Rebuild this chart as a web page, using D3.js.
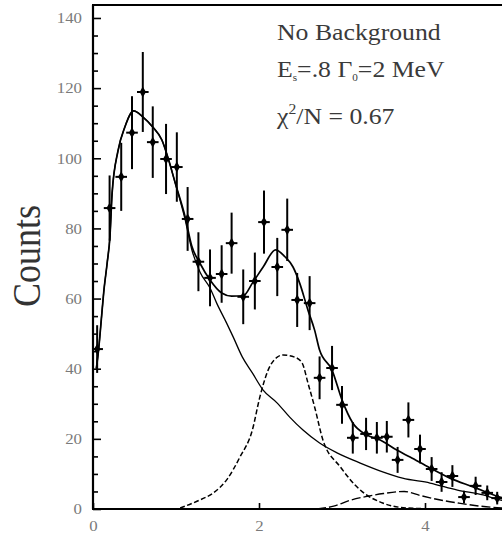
<!DOCTYPE html>
<html>
<head>
<meta charset="utf-8">
<script src="https://cdn.jsdelivr.net/npm/d3@7"></script>
<style>
  body { margin: 0; background: #fff; }
  svg { display: block; }
</style>
</head>
<body>
<div id="chart"></div>
<script>
// data
var binX = [0.05, 0.20, 0.34, 0.47, 0.60, 0.72, 0.88, 1.01, 1.14, 1.27, 1.41, 1.55, 1.67,
  1.81, 1.95, 2.06, 2.22, 2.34, 2.46, 2.61, 2.73, 2.88, 3.00, 3.13, 3.29, 3.42, 3.54,
  3.67, 3.80, 3.94, 4.08, 4.20, 4.33, 4.47, 4.61, 4.75, 4.87];
var counts = [45.6, 85.8, 94.7, 107.3, 118.9, 104.6, 99.8, 97.5, 82.7, 70.5, 65.9, 67.0, 75.8,
  60.5, 65.0, 81.8, 69.0, 79.6, 59.6, 58.7, 37.4, 40.2, 29.7, 20.3, 21.4, 20.3, 20.6,
  14.0, 25.4, 17.1, 11.4, 7.7, 9.4, 3.4, 6.6, 4.6, 3.1];
var errs = [6.8, 9.3, 9.7, 10.4, 11.4, 10.2, 10.0, 9.9, 9.1, 8.4, 8.1, 8.2, 8.7,
  7.8, 8.1, 9.0, 8.3, 8.9, 7.7, 7.7, 6.1, 6.3, 5.4, 4.5, 4.6, 4.5, 4.5,
  3.7, 5.0, 4.1, 3.4, 2.8, 3.1, 1.8, 2.6, 2.1, 1.8];
var binHalf = 0.07;

var totalFit = [[0.04, 40], [0.07, 46], [0.10, 54], [0.13, 62], [0.17, 70], [0.205, 78], [0.23, 90],
  [0.30, 102], [0.385, 109], [0.49, 113.5], [0.60, 111.8], [0.72, 108.9], [0.83, 105.2],
  [0.90, 100.4], [0.99, 93], [1.11, 83.3], [1.19, 75], [1.29, 70], [1.41, 65.3], [1.55, 61.6],
  [1.67, 60.7], [1.81, 60.8], [1.92, 64.4], [2.05, 69.0], [2.20, 73.9], [2.31, 72], [2.41, 69],
  [2.49, 64.4], [2.59, 56.7], [2.67, 51], [2.73, 45.3], [2.88, 39.6], [3.00, 31.1], [3.13, 24.5],
  [3.30, 21.1], [3.46, 19.7], [3.66, 16.8], [3.82, 14.8], [4.06, 11.7], [4.30, 8.8], [4.58, 6.3],
  [4.90, 3.4], [5.0, 2.8]];
var broadPart = [[0.04, 40], [0.07, 46], [0.10, 54], [0.13, 62], [0.17, 70], [0.205, 78], [0.23, 90],
  [0.30, 102], [0.385, 109], [0.49, 113.5], [0.60, 111.8], [0.72, 108.9], [0.83, 105.2],
  [0.90, 100.4], [0.99, 93], [1.11, 82.5], [1.19, 74], [1.29, 67.5], [1.41, 63], [1.49, 58.7],
  [1.61, 53], [1.69, 49], [1.80, 43.3], [1.92, 38.8], [2.05, 33.9], [2.22, 30.2], [2.37, 26.2],
  [2.53, 22.5], [2.73, 18.8], [2.94, 16], [3.22, 13.1], [3.49, 10.6], [3.73, 8.8], [4.06, 7.4],
  [4.39, 5.4], [4.70, 4.0], [4.90, 2.6], [5.0, 2.3]];
var peakPart = [[1.05, 0.3], [1.29, 2.6], [1.45, 4.6], [1.61, 8.3], [1.77, 14.8], [1.92, 22.5],
  [2.01, 31.9], [2.11, 39.6], [2.22, 43.3], [2.29, 43.9], [2.43, 43.3], [2.52, 41.6], [2.59, 35.9],
  [2.67, 29.1], [2.77, 19.7], [2.98, 12.0], [3.22, 5.4], [3.49, 1.7], [3.78, 0.3], [4.18, 0]];
var smallPart = [[2.7, 0], [2.9, 0.8], [3.1, 2.5], [3.3, 3.6], [3.5, 4.4], [3.75, 5.0], [3.95, 3.8],
  [4.2, 2.5], [4.4, 1.7], [4.6, 1.0], [4.8, 0.5], [4.95, 0.3]];

var yMajor = [0, 20, 40, 60, 80, 100, 120, 140];
var yMinor = d3.range(0, 145, 5);
var xMajor = [0, 2, 4];

var W = 502, H = 533;
var plot = { left: 93, right: 508, top: 5, bottom: 509 };
var stretch = 1.12; // the picture is a bit wider than tall

var svg = d3.select("#chart").append("svg")
  .attr("width", W).attr("height", H);

var x = d3.scaleLinear().domain([0, 5]).range([plot.left, plot.right]);
var y = d3.scaleLinear().domain([0, 143.7]).range([plot.bottom, plot.top]);

svg.append("clipPath").attr("id", "clip")
  .append("rect")
  .attr("x", plot.left).attr("y", plot.top)
  .attr("width", plot.right - plot.left).attr("height", plot.bottom - plot.top);

var line = d3.line()
  .x(function (d) { return x(d[0]); })
  .y(function (d) { return y(d[1]); })
  .curve(d3.curveMonotoneX);

var curves = svg.append("g").attr("clip-path", "url(#clip)")
  .attr("fill", "none").attr("stroke", "#000");

curves.append("path").datum(smallPart).attr("d", line)
  .attr("stroke-width", 1.4).attr("stroke-dasharray", "9,3");
curves.append("path").datum(peakPart).attr("d", line)
  .attr("stroke-width", 1.5).attr("stroke-dasharray", "5,2.5");
curves.append("path").datum(broadPart).attr("d", line)
  .attr("stroke-width", 1.3);
curves.append("path").datum(totalFit).attr("d", line)
  .attr("stroke-width", 1.7);

// data points with error bars
var pts = binX.map(function (v, i) { return { x: v, y: counts[i], e: errs[i] }; });
var marks = svg.append("g").attr("clip-path", "url(#clip)").attr("stroke", "#000");
marks.selectAll(".ev").data(pts).enter().append("line")
  .attr("x1", function (d) { return x(d.x); })
  .attr("x2", function (d) { return x(d.x); })
  .attr("y1", function (d) { return y(d.y - d.e); })
  .attr("y2", function (d) { return y(d.y + d.e); })
  .attr("stroke-width", 2);
marks.selectAll(".eh").data(pts).enter().append("line")
  .attr("x1", function (d) { return x(d.x - binHalf); })
  .attr("x2", function (d) { return x(d.x + binHalf); })
  .attr("y1", function (d) { return y(d.y); })
  .attr("y2", function (d) { return y(d.y); })
  .attr("stroke-width", 2);
marks.selectAll(".pt").data(pts).enter().append("path")
  .attr("d", d3.symbol(d3.symbolDiamond, 34))
  .attr("transform", function (d) { return "translate(" + x(d.x) + "," + y(d.y) + ")"; })
  .attr("fill", "#000").attr("stroke", "none");

// axes, ticks pointing inward
function styleLabels(g) {
  g.select(".domain").remove();
  g.selectAll(".tick line").attr("stroke", "#000").attr("stroke-width", 1.6);
  g.selectAll(".tick text")
    .attr("fill", "#7a7a7a")
    .style("font-family", "Liberation Serif, Times New Roman, serif")
    .style("font-size", "15px");
}

var yAxisG = svg.append("g").attr("transform", "translate(" + plot.left + ",0)")
  .call(d3.axisLeft(y).tickValues(yMajor).tickFormat(d3.format("d"))
    .tickSizeInner(-8).tickSizeOuter(0).tickPadding(11));
styleLabels(yAxisG);
yAxisG.selectAll(".tick text").each(function () {
  var t = d3.select(this);
  t.attr("x", -11 / stretch).attr("transform", "scale(" + stretch + ",1)");
});

svg.append("g").attr("transform", "translate(" + plot.left + ",0)")
  .call(d3.axisLeft(y).tickValues(yMinor.filter(function (v) { return v % 20 !== 0; }))
    .tickSizeInner(-5).tickSizeOuter(0).tickFormat(""))
  .call(function (g) {
    g.select(".domain").remove();
    g.selectAll(".tick line").attr("stroke", "#000").attr("stroke-width", 1.6);
  });

var xAxisG = svg.append("g").attr("transform", "translate(0," + plot.bottom + ")")
  .call(d3.axisBottom(x).tickValues(xMajor).tickFormat(d3.format("d"))
    .tickSizeInner(-6).tickSizeOuter(0).tickPadding(11));
styleLabels(xAxisG);
xAxisG.selectAll(".tick").each(function (d) {
  // keep the label centred on its tick while stretching it
  d3.select(this).select("text")
    .attr("transform", "translate(0,0) scale(" + stretch + ",1)");
});

// frame
var frame = svg.append("g").attr("stroke", "#000").attr("stroke-width", 2.2);
frame.append("line").attr("x1", plot.left).attr("x2", plot.left)
  .attr("y1", plot.top).attr("y2", plot.bottom);
frame.append("line").attr("x1", plot.left - 1).attr("x2", W)
  .attr("y1", plot.top).attr("y2", plot.top);
frame.append("line").attr("x1", plot.left - 1).attr("x2", W)
  .attr("y1", plot.bottom).attr("y2", plot.bottom);

// y axis title
svg.append("text")
  .attr("transform", "translate(40,256) scale(" + stretch + ",1) rotate(-90)")
  .attr("text-anchor", "middle")
  .attr("fill", "#333")
  .style("font-family", "Liberation Serif, Times New Roman, serif")
  .style("font-size", "36px")
  .text("Counts");

// annotations
var note = svg.append("g")
  .attr("transform", "translate(277,0) scale(" + stretch + ",1)")
  .attr("fill", "#3a3a3a")
  .style("font-family", "Liberation Serif, Times New Roman, serif")
  .style("font-size", "23px");
note.append("text").attr("x", 0).attr("y", 40).text("No Background");
var l2 = note.append("text").attr("x", 0).attr("y", 77);
l2.append("tspan").text("E");
l2.append("tspan").attr("dy", 4).style("font-size", "10px").text("s");
l2.append("tspan").attr("dy", -4).text("=.8 \u0393");
l2.append("tspan").attr("dy", 4).style("font-size", "10px").text("0");
l2.append("tspan").attr("dy", -4).text("=2 MeV");
var l3 = note.append("text").attr("x", 0).attr("y", 124);
l3.append("tspan").text("\u03c7");
l3.append("tspan").attr("dy", -10).style("font-size", "14px").text("2");
l3.append("tspan").attr("dy", 10).text("/N = 0.67");
</script>
</body>
</html>
